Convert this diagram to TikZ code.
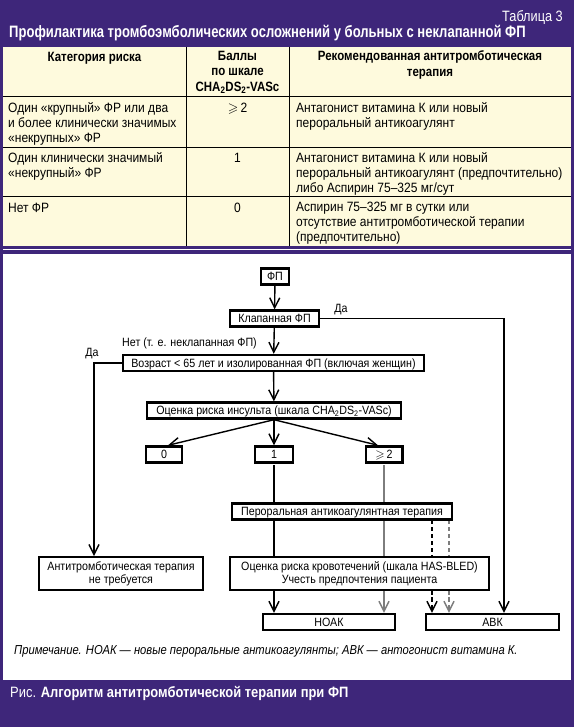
\documentclass[tikz,border=0pt]{standalone}
\usepackage{amssymb}
\usepackage{fontspec}
\setmainfont{Liberation Sans}
\newfontfamily\uzkij{Liberation Sans}[FakeStretch=0.89]
\newfontfamily\szhat{Liberation Sans}[FakeStretch=0.85]
\newfontfamily\primfont{Liberation Sans}[FakeStretch=0.862]
\newfontfamily\titfont{Liberation Sans}[FakeStretch=0.79]
\usetikzlibrary{arrows.meta}
\definecolor{fon}{RGB}{62,38,122}
\definecolor{tabfon}{RGB}{254,250,221}
\definecolor{seryj}{RGB}{125,125,125}

\tikzset{
  blok/.style={draw, line width=2.4pt, fill=white, inner sep=0pt, minimum height=16pt,
    text height=8.6pt, text depth=0pt, font=\uzkij\fontsize{12}{13}\selectfont},
  blokdva/.style={draw, line width=2.4pt, fill=white, inner sep=0pt, minimum height=32.6pt,
    align=center, font=\uzkij\fontsize{12}{13}\selectfont},
  linija/.style={line width=1.4pt},
  strelka/.style={line width=1.4pt, -{Straight Barb[length=10pt,width=10pt]}},
  podpis/.style={inner sep=0pt, text height=8.6pt, text depth=0pt,
    font=\uzkij\fontsize{12}{13}\selectfont},
  shapka/.style={inner sep=0pt, align=center, anchor=north, execute at begin node=\strut,
    font=\szhat\bfseries\fontsize{13.5}{15.5}\selectfont},
  jachejka/.style={inner sep=0pt, align=left, anchor=north west, execute at begin node=\strut,
    font=\uzkij\fontsize{13.5}{15}\selectfont},
}

\begin{document}
\begin{tikzpicture}[x=1pt, y=-1pt]
\useasboundingbox (0,0) rectangle (574,727);
\fill[fon] (0,0) rectangle (574,727);

% --- Таблица 3 ---
\node[anchor=east, inner sep=0pt, text height=10.7pt, text depth=0pt, text=white,
      font=\szhat\fontsize{15}{17}\selectfont] (nomer) at (563,16) {Таблица 3};
\node[anchor=west, inner sep=0pt, text height=11.8pt, text depth=0pt, text=white,
      font=\titfont\bfseries\fontsize{16.5}{19}\selectfont] (titul) at (9,32)
      {Профилактика тромбоэмболических осложнений у больных с неклапанной ФП};
\fill[tabfon] (3,47) rectangle (571,246);
\draw[line width=1pt] (3,97) -- (571,97);
\draw[line width=1pt] (3,148) -- (571,148);
\draw[line width=1pt] (3,197) -- (571,197);
\draw[line width=1pt] (186,47) -- (186,246);
\draw[line width=1pt] (289,47) -- (289,246);
\draw[white, line width=1.5pt] (3,249.5) -- (571,249.5);
% шапка
\node[shapka] (h1) at (94.5,50.9) {Категория риска};
\node[shapka] (h2) at (237.5,50.9) {Баллы\\по шкале\\CHA\textsubscript{2}DS\textsubscript{2}-VASc};
\node[shapka] (h3) at (430,50.9) {Рекомендованная антитромботическая\\терапия};
% строки: категория / баллы / терапия
\node[jachejka] (r1a) at (8,102.3) {Один «крупный» ФР или два\\и более клинически значимых\\«некрупных» ФР};
\node[jachejka, anchor=north] (r1b) at (237.5,102.3) {$\geqslant$\,2};
\node[jachejka] (r1c) at (296,102.3) {Антагонист витамина К или новый\\пероральный антикоагулянт};
\node[jachejka] (r2a) at (8,152.3) {Один клинически значимый\\«некрупный» ФР};
\node[jachejka, anchor=north] (r2b) at (237.5,152.3) {1};
\node[jachejka] (r2c) at (296,152.3) {Антагонист витамина К или новый\\пероральный антикоагулянт (предпочтительно)\\либо Аспирин 75–325 мг/сут};
\node[jachejka] (r3a) at (8,202.3) {Нет ФР};
\node[jachejka, anchor=north] (r3b) at (237.5,202.3) {0};
\node[jachejka] (r3c) at (296,202.3) {Аспирин 75–325 мг в сутки или\\отсутствие антитромботической терапии\\(предпочтительно)};

% --- Алгоритм ---
\fill[white] (3,254) rectangle (571,680);
% линии через блоки рисуются первыми
\coordinate (kx) at (274,0);
\coordinate (sx) at (384,0);
\coordinate (px) at (432,0);
\coordinate (qx) at (449,0);
\draw[linija] (kx |- 0,465) -- (kx |- 0,600);
\draw[linija, seryj] (sx |- 0,465) -- (sx |- 0,600);
\draw[linija, dash pattern=on 4pt off 3pt] (px |- 0,520) -- (px |- 0,600);
\draw[linija, seryj, dash pattern=on 4pt off 3pt] (qx |- 0,520) -- (qx |- 0,600);

\node[blok, minimum width=27.6pt] (fp) at (275,276.5) {ФП};
\node[blok, minimum width=88.6pt] (klap) at (274.5,318.5) {Клапанная ФП};
\node[blok, minimum width=300.6pt] (voz) at (273.5,363) {Возраст < 65 лет и изолированная ФП (включая женщин)};
\node[blok, minimum width=253.6pt] (ocen) at (274,410.5) {Оценка риска инсульта (шкала CHA\textsubscript{2}DS\textsubscript{2}-VASc)};
\node[blok, minimum width=35.6pt] (b0) at (164,454.5) {0};
\node[blok, minimum width=37.6pt] (b1) at (274,454.5) {1};
\node[blok, minimum width=36.6pt] (b2) at (384,454.5) {$\geqslant$\,2};
\node[blok, minimum width=219.6pt] (oak) at (342,511.5) {Пероральная антикоагулянтная терапия};
\node[blokdva, minimum width=258.6pt] (krov) at (359.5,573.5) {Оценка риска кровотечений (шкала HAS-BLED)\\Учесть предпочтения пациента};
\node[blokdva, minimum width=163.6pt] (net) at (121,573.5) {Антитромботическая терапия\\не требуется};
\node[blok, minimum width=131.6pt] (noak) at (329,622) {НОАК};
\node[blok, minimum width=132.6pt] (avk) at (492.5,622) {АВК};

% стрелки
\draw[strelka] (fp) -- (klap);
\draw[strelka] (klap) -- (voz);
\draw[strelka] (voz) -- (ocen);
\draw[strelka] (ocen.south) -- ([xshift=4pt]b0.north);
\draw[strelka] (ocen.south) -- (b1.north);
\draw[strelka] (ocen.south) -- ([xshift=-6pt]b2.north);
\coordinate (daP) at (504,318.5);
\draw[strelka] (klap.east) -- (daP) -- (daP |- avk.north);
\coordinate (daL) at (94,363);
\draw[strelka] (voz.west) -- (daL) -- (daL |- net.north);
\draw[strelka] (kx |- krov.south) -- (kx |- noak.north);
\draw[strelka, seryj] (sx |- krov.south) -- (sx |- noak.north);
\draw[strelka, dash pattern=on 4pt off 3pt] (px |- krov.south) -- (px |- avk.north);
\draw[strelka, seryj, dash pattern=on 4pt off 3pt] (qx |- krov.south) -- (qx |- avk.north);
% подписи
\node[podpis] (da1) at (341,308) {Да};
\node[podpis] (da2) at (92,352) {Да};
\node[podpis, anchor=east] (netfp) at (257,342) {Нет (т. е. неклапанная ФП)};

\node[anchor=west, inner sep=0pt, text height=9.3pt, text depth=0pt,
      font=\primfont\itshape\fontsize{13}{15}\selectfont] (prim) at (14,650)
      {Примечание. НОАК — новые пероральные антикоагулянты; АВК — антогонист витамина К.};

% --- Рис. ---
\node[anchor=west, inner sep=0pt, text height=10.7pt, text depth=0pt, text=white,
      font=\primfont\fontsize{15}{17}\selectfont] (ris) at (10,692)
      {Рис. \textbf{Алгоритм антитромботической терапии при ФП}};
\end{tikzpicture}
\end{document}
